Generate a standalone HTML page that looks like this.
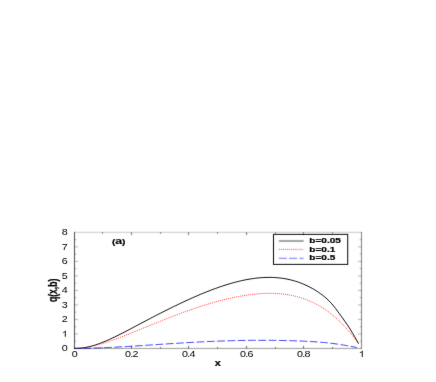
<!DOCTYPE html>
<html><head><meta charset="utf-8"><style>
html,body{margin:0;padding:0;background:#fff;}
svg{display:block;font-family:"Liberation Sans",sans-serif;}
</style></head><body>
<svg width="436" height="382" viewBox="0 0 436 382">
<defs><filter id="bl" x="0" y="0" width="436" height="382" filterUnits="userSpaceOnUse"><feConvolveMatrix order="3" kernelMatrix="0.01767 0.09760 0.01767 0.09760 0.53892 0.09760 0.01767 0.09760 0.01767" edgeMode="duplicate" preserveAlpha="false"/></filter>
<filter id="bt" x="0" y="0" width="436" height="382" filterUnits="userSpaceOnUse"><feConvolveMatrix order="3" kernelMatrix="0.00421 0.05645 0.00421 0.05645 0.75737 0.05645 0.00421 0.05645 0.00421" edgeMode="duplicate" preserveAlpha="false"/></filter></defs>
<rect width="436" height="382" fill="#fff"/>
<g filter="url(#bt)">
<path d="M74.50 348.40 L76.41 348.40 L78.31 348.35 L80.22 348.22 L82.12 348.01 L84.03 347.74 L85.94 347.41 L87.84 347.02 L89.75 346.57 L91.65 346.07 L93.56 345.52 L95.47 344.93 L97.37 344.29 L99.28 343.61 L101.18 342.89 L103.09 342.14 L105.00 341.36 L106.90 340.54 L108.81 339.71 L110.71 338.84 L112.62 337.95 L114.53 337.05 L116.43 336.12 L118.34 335.18 L120.24 334.23 L122.15 333.26 L124.06 332.28 L125.96 331.29 L127.87 330.30 L129.78 329.30 L131.68 328.29 L133.59 327.28 L135.49 326.27 L137.40 325.26 L139.31 324.25 L141.21 323.24 L143.12 322.23 L145.02 321.22 L146.93 320.22 L148.84 319.22 L150.74 318.22 L152.65 317.23 L154.55 316.24 L156.46 315.25 L158.37 314.27 L160.27 313.30 L162.18 312.33 L164.08 311.37 L165.99 310.41 L167.90 309.46 L169.80 308.51 L171.71 307.58 L173.61 306.64 L175.52 305.72 L177.43 304.80 L179.33 303.89 L181.24 302.98 L183.14 302.09 L185.05 301.20 L186.96 300.32 L188.86 299.45 L190.77 298.59 L192.67 297.74 L194.58 296.90 L196.49 296.07 L198.39 295.25 L200.30 294.44 L202.20 293.64 L204.11 292.86 L206.02 292.09 L207.92 291.33 L209.83 290.59 L211.73 289.86 L213.64 289.14 L215.55 288.44 L217.45 287.75 L219.36 287.08 L221.27 286.43 L223.17 285.80 L225.08 285.18 L226.98 284.58 L228.89 284.00 L230.80 283.44 L232.70 282.90 L234.61 282.38 L236.51 281.88 L238.42 281.40 L240.33 280.95 L242.23 280.52 L244.14 280.11 L246.04 279.73 L247.95 279.38 L249.86 279.05 L251.76 278.75 L253.67 278.47 L255.57 278.23 L257.48 278.01 L259.39 277.82 L261.29 277.67 L263.20 277.55 L265.10 277.46 L267.01 277.40 L268.92 277.38 L270.82 277.39 L272.73 277.44 L274.63 277.53 L276.54 277.66 L278.45 277.82 L280.35 278.03 L282.26 278.28 L284.16 278.57 L286.07 278.90 L287.98 279.28 L289.88 279.70 L291.79 280.17 L293.69 280.68 L295.60 281.25 L297.51 281.86 L299.41 282.53 L301.32 283.25 L303.22 284.02 L305.13 284.85 L307.04 285.73 L308.94 286.67 L310.85 287.66 L312.76 288.72 L314.66 289.84 L316.57 291.02 L318.47 292.27 L320.38 293.60 L322.29 295.02 L324.19 296.52 L326.10 298.14 L328.00 299.89 L329.91 301.78 L331.82 303.86 L333.72 306.12 L335.63 308.55 L337.53 311.11 L339.44 313.73 L341.35 316.36 L343.25 319.00 L345.16 321.68 L347.06 324.44 L348.97 327.31 L350.88 330.32 L352.78 333.47 L354.69 336.75 L356.59 340.14 L358.50 343.60" fill="none" stroke="#000" stroke-width="0.95"/>
<path d="M74.50 348.40 L76.41 348.36 L78.31 348.26 L80.22 348.12 L82.12 347.92 L84.03 347.69 L85.94 347.41 L87.84 347.09 L89.75 346.73 L91.65 346.34 L93.56 345.91 L95.47 345.46 L97.37 344.97 L99.28 344.45 L101.18 343.91 L103.09 343.34 L105.00 342.75 L106.90 342.14 L108.81 341.50 L110.71 340.85 L112.62 340.19 L114.53 339.50 L116.43 338.80 L118.34 338.09 L120.24 337.37 L122.15 336.64 L124.06 335.90 L125.96 335.15 L127.87 334.39 L129.78 333.63 L131.68 332.86 L133.59 332.09 L135.49 331.31 L137.40 330.54 L139.31 329.76 L141.21 328.98 L143.12 328.20 L145.02 327.42 L146.93 326.64 L148.84 325.86 L150.74 325.08 L152.65 324.31 L154.55 323.54 L156.46 322.77 L158.37 322.00 L160.27 321.24 L162.18 320.48 L164.08 319.72 L165.99 318.97 L167.90 318.23 L169.80 317.49 L171.71 316.75 L173.61 316.02 L175.52 315.29 L177.43 314.58 L179.33 313.86 L181.24 313.16 L183.14 312.46 L185.05 311.77 L186.96 311.08 L188.86 310.41 L190.77 309.74 L192.67 309.08 L194.58 308.43 L196.49 307.78 L198.39 307.15 L200.30 306.53 L202.20 305.91 L204.11 305.31 L206.02 304.72 L207.92 304.14 L209.83 303.56 L211.73 303.00 L213.64 302.46 L215.55 301.92 L217.45 301.40 L219.36 300.89 L221.27 300.39 L223.17 299.90 L225.08 299.43 L226.98 298.97 L228.89 298.53 L230.80 298.10 L232.70 297.69 L234.61 297.29 L236.51 296.90 L238.42 296.54 L240.33 296.18 L242.23 295.85 L244.14 295.54 L246.04 295.24 L247.95 294.96 L249.86 294.70 L251.76 294.46 L253.67 294.24 L255.57 294.05 L257.48 293.87 L259.39 293.72 L261.29 293.59 L263.20 293.48 L265.10 293.40 L267.01 293.35 L268.92 293.32 L270.82 293.32 L272.73 293.35 L274.63 293.41 L276.54 293.50 L278.45 293.62 L280.35 293.78 L282.26 293.96 L284.16 294.18 L286.07 294.44 L287.98 294.73 L289.88 295.06 L291.79 295.43 L293.69 295.84 L295.60 296.29 L297.51 296.79 L299.41 297.33 L301.32 297.91 L303.22 298.54 L305.13 299.21 L307.04 299.94 L308.94 300.71 L310.85 301.54 L312.76 302.42 L314.66 303.36 L316.57 304.35 L318.47 305.39 L320.38 306.50 L322.29 307.67 L324.19 308.90 L326.10 310.19 L328.00 311.55 L329.91 312.98 L331.82 314.47 L333.72 316.04 L335.63 317.68 L337.53 319.39 L339.44 321.18 L341.35 323.04 L343.25 324.98 L345.16 327.01 L347.06 329.11 L348.97 331.31 L350.88 333.58 L352.78 335.95 L354.69 338.41 L356.59 340.96 L358.50 343.60" fill="none" stroke="#ff0000" stroke-width="0.78" stroke-dasharray="1 1.05"/>
<path d="M74.50 348.40 L76.39 348.39 L78.29 348.38 L80.18 348.37 L82.08 348.34 L83.97 348.31 L85.86 348.28 L87.76 348.24 L89.65 348.20 L91.55 348.15 L93.44 348.09 L95.33 348.03 L97.23 347.97 L99.12 347.90 L101.02 347.83 L102.91 347.75 L104.80 347.67 L106.70 347.59 L108.59 347.50 L110.49 347.41 L112.38 347.32 L114.27 347.22 L116.17 347.12 L118.06 347.02 L119.96 346.92 L121.85 346.81 L123.74 346.70 L125.64 346.59 L127.53 346.48 L129.42 346.36 L131.32 346.25 L133.21 346.13 L135.11 346.01 L137.00 345.89 L138.89 345.77 L140.79 345.65 L142.68 345.52 L144.58 345.40 L146.47 345.27 L148.36 345.15 L150.26 345.02 L152.15 344.90 L154.05 344.77 L155.94 344.65 L157.83 344.52 L159.73 344.39 L161.62 344.27 L163.52 344.15 L165.41 344.02 L167.30 343.90 L169.20 343.77 L171.09 343.65 L172.99 343.53 L174.88 343.41 L176.77 343.29 L178.67 343.18 L180.56 343.06 L182.46 342.94 L184.35 342.83 L186.24 342.72 L188.14 342.61 L190.03 342.50 L191.93 342.40 L193.82 342.29 L195.71 342.19 L197.61 342.09 L199.50 341.99 L201.40 341.89 L203.29 341.80 L205.18 341.71 L207.08 341.62 L208.97 341.53 L210.87 341.45 L212.76 341.37 L214.65 341.29 L216.55 341.21 L218.44 341.14 L220.33 341.07 L222.23 341.00 L224.12 340.93 L226.02 340.87 L227.91 340.81 L229.80 340.75 L231.70 340.70 L233.59 340.65 L235.49 340.60 L237.38 340.56 L239.27 340.52 L241.17 340.48 L243.06 340.45 L244.96 340.42 L246.85 340.39 L248.74 340.37 L250.64 340.34 L252.53 340.33 L254.43 340.31 L256.32 340.30 L258.21 340.29 L260.11 340.29 L262.00 340.29 L263.90 340.29 L265.79 340.30 L267.68 340.31 L269.58 340.32 L271.47 340.34 L273.37 340.36 L275.26 340.38 L277.15 340.41 L279.05 340.44 L280.94 340.47 L282.84 340.51 L284.73 340.55 L286.62 340.59 L288.52 340.64 L290.41 340.69 L292.31 340.75 L294.20 340.81 L296.09 340.87 L297.99 340.94 L299.88 341.01 L301.78 341.09 L303.67 341.17 L305.56 341.26 L307.46 341.35 L309.35 341.46 L311.24 341.56 L313.14 341.68 L315.03 341.80 L316.93 341.94 L318.82 342.08 L320.71 342.23 L322.61 342.39 L324.50 342.57 L326.40 342.75 L328.29 342.95 L330.18 343.16 L332.08 343.39 L333.97 343.63 L335.87 343.88 L337.76 344.15 L339.65 344.44 L341.55 344.74 L343.44 345.05 L345.34 345.38 L347.23 345.72 L349.12 346.06 L351.02 346.42 L352.91 346.78 L354.81 347.14 L356.70 347.50" fill="none" stroke="#3838ff" stroke-width="0.95" stroke-dasharray="7.7 2.6" stroke-dashoffset="1.3"/>
</g>
<g filter="url(#bl)">
<g stroke="#000" fill="none">
<line x1="74.50" y1="231.95" x2="74.50" y2="348.85" stroke-width="0.7"/><line x1="361.50" y1="231.95" x2="361.50" y2="348.85" stroke-width="0.5"/><line x1="74.10" y1="232.35" x2="361.90" y2="232.35" stroke-width="0.22"/><line x1="74.10" y1="348.45" x2="361.90" y2="348.45" stroke-width="0.4"/>
<g stroke-width="0.6"><line x1="131.50" y1="348.45" x2="131.50" y2="345.85"/><line x1="131.50" y1="232.35" x2="131.50" y2="234.95"/><line x1="188.50" y1="348.45" x2="188.50" y2="345.85"/><line x1="188.50" y1="232.35" x2="188.50" y2="234.95"/><line x1="246.50" y1="348.45" x2="246.50" y2="345.85"/><line x1="246.50" y1="232.35" x2="246.50" y2="234.95"/><line x1="303.50" y1="348.45" x2="303.50" y2="345.85"/><line x1="303.50" y1="232.35" x2="303.50" y2="234.95"/><line x1="102.50" y1="348.45" x2="102.50" y2="347.05"/><line x1="102.50" y1="232.35" x2="102.50" y2="233.75"/><line x1="160.50" y1="348.45" x2="160.50" y2="347.05"/><line x1="160.50" y1="232.35" x2="160.50" y2="233.75"/><line x1="217.50" y1="348.45" x2="217.50" y2="347.05"/><line x1="217.50" y1="232.35" x2="217.50" y2="233.75"/><line x1="275.50" y1="348.45" x2="275.50" y2="347.05"/><line x1="275.50" y1="232.35" x2="275.50" y2="233.75"/><line x1="332.50" y1="348.45" x2="332.50" y2="347.05"/><line x1="332.50" y1="232.35" x2="332.50" y2="233.75"/></g>
<g stroke-width="0.3"><line x1="74.50" y1="333.94" x2="78.10" y2="333.94"/><line x1="361.50" y1="333.94" x2="357.90" y2="333.94"/><line x1="74.50" y1="319.43" x2="78.10" y2="319.43"/><line x1="361.50" y1="319.43" x2="357.90" y2="319.43"/><line x1="74.50" y1="304.91" x2="78.10" y2="304.91"/><line x1="361.50" y1="304.91" x2="357.90" y2="304.91"/><line x1="74.50" y1="290.40" x2="78.10" y2="290.40"/><line x1="361.50" y1="290.40" x2="357.90" y2="290.40"/><line x1="74.50" y1="275.89" x2="78.10" y2="275.89"/><line x1="361.50" y1="275.89" x2="357.90" y2="275.89"/><line x1="74.50" y1="261.38" x2="78.10" y2="261.38"/><line x1="361.50" y1="261.38" x2="357.90" y2="261.38"/><line x1="74.50" y1="246.86" x2="78.10" y2="246.86"/><line x1="361.50" y1="246.86" x2="357.90" y2="246.86"/><line x1="74.50" y1="341.19" x2="76.40" y2="341.19"/><line x1="361.50" y1="341.19" x2="359.60" y2="341.19"/><line x1="74.50" y1="326.68" x2="76.40" y2="326.68"/><line x1="361.50" y1="326.68" x2="359.60" y2="326.68"/><line x1="74.50" y1="312.17" x2="76.40" y2="312.17"/><line x1="361.50" y1="312.17" x2="359.60" y2="312.17"/><line x1="74.50" y1="297.66" x2="76.40" y2="297.66"/><line x1="361.50" y1="297.66" x2="359.60" y2="297.66"/><line x1="74.50" y1="283.14" x2="76.40" y2="283.14"/><line x1="361.50" y1="283.14" x2="359.60" y2="283.14"/><line x1="74.50" y1="268.63" x2="76.40" y2="268.63"/><line x1="361.50" y1="268.63" x2="359.60" y2="268.63"/><line x1="74.50" y1="254.12" x2="76.40" y2="254.12"/><line x1="361.50" y1="254.12" x2="359.60" y2="254.12"/><line x1="74.50" y1="239.61" x2="76.40" y2="239.61"/><line x1="361.50" y1="239.61" x2="359.60" y2="239.61"/></g>
</g>
<line x1="278.9" y1="241" x2="303.7" y2="241" stroke="#000" stroke-width="0.72"/>
<line x1="278.9" y1="249.4" x2="303.7" y2="249.4" stroke="#ff0000" stroke-width="0.8" stroke-dasharray="1 1.05"/>
<line x1="278.9" y1="258.3" x2="303.7" y2="258.3" stroke="#3838ff" stroke-width="0.72" stroke-dasharray="7.8 2.5"/>
</g>
<g filter="url(#bt)">
<rect x="273.5" y="234.4" width="74.2" height="30" fill="none" stroke="#222" stroke-width="1.1"/>
<g font-size="6.7" font-weight="bold" fill="#000" stroke="#000" stroke-width="0.2">
<text transform="translate(309.3,243.1) scale(1.5,1)">b=0.05</text>
<text transform="translate(309.3,251.8) scale(1.5,1)">b=0.1</text>
<text transform="translate(309.3,260.0) scale(1.5,1)">b=0.5</text>
<text transform="translate(118.7,244.3) scale(1.34,1)" text-anchor="middle" font-size="7.6">(<tspan font-size="9.2">a</tspan>)</text>
<text transform="translate(217.7,366.2) scale(1.15,1)" text-anchor="middle" font-size="9.5">x</text>
<text transform="translate(57.2,290.4) rotate(-90) scale(1,1.5)" text-anchor="middle" font-size="8.6">q(x,b)</text>
</g>
<g font-size="8.6" fill="#000" letter-spacing="-0.5">
<path transform="translate(358.72,357.00) scale(0.005249,-0.004199)" d="M763 0H583V1147Q518 1085 412.5 1023T223 930V1104Q373 1174.5 485.5 1275T644 1470H763Z" stroke="none"/><path transform="translate(61.75,336.84) scale(0.005249,-0.004199)" d="M763 0H583V1147Q518 1085 412.5 1023T223 930V1104Q373 1174.5 485.5 1275T644 1470H763Z" stroke="none"/><text transform="translate(74.40,357.00) scale(1.25,1)" text-anchor="middle">0</text><text transform="translate(131.40,357.00) scale(1.25,1)" text-anchor="middle">0.2</text><text transform="translate(188.40,357.00) scale(1.25,1)" text-anchor="middle">0.4</text><text transform="translate(246.40,357.00) scale(1.25,1)" text-anchor="middle">0.6</text><text transform="translate(303.40,357.00) scale(1.25,1)" text-anchor="middle">0.8</text><text transform="translate(67.10,351.35) scale(1.25,1)" text-anchor="end">0</text><text transform="translate(67.10,322.32) scale(1.25,1)" text-anchor="end">2</text><text transform="translate(67.10,307.81) scale(1.25,1)" text-anchor="end">3</text><text transform="translate(67.10,293.30) scale(1.25,1)" text-anchor="end">4</text><text transform="translate(67.10,278.79) scale(1.25,1)" text-anchor="end">5</text><text transform="translate(67.10,264.27) scale(1.25,1)" text-anchor="end">6</text><text transform="translate(67.10,249.76) scale(1.25,1)" text-anchor="end">7</text><text transform="translate(67.10,235.25) scale(1.25,1)" text-anchor="end">8</text>
</g>
</g>
</svg>
</body></html>
